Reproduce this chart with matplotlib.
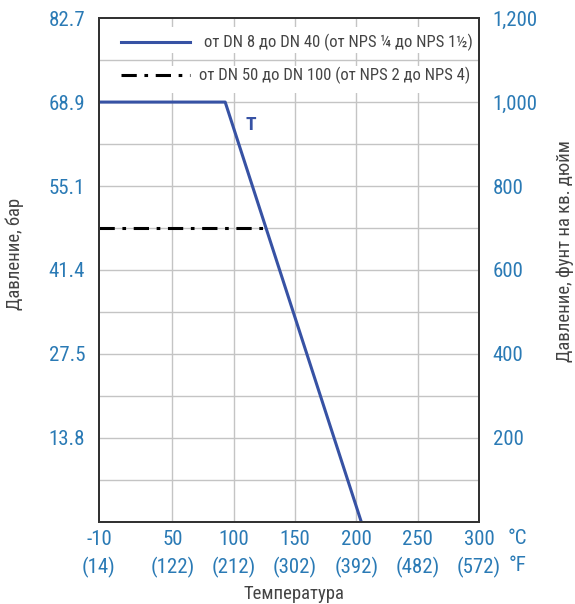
import matplotlib
matplotlib.use('Agg')
import matplotlib.pyplot as plt
from matplotlib import font_manager

# data (pressure in psi, temperature in C)
temp_small = [-10, 93, 204]
psi_small = [1000, 1000, 0]
temp_large = [-10, 126]
psi_large = [700, 700]

x_ticks = [-10, 50, 100, 150, 200, 250, 300]
x_labels_f = ['(14)', '(122)', '(212)', '(302)', '(392)', '(482)', '(572)']
psi_ticks = [200, 400, 600, 800, 1000, 1200]
bar_labels = ['13.8', '27.5', '41.4', '55.1', '68.9', '82.7']
psi_labels = ['200', '400', '600', '800', '1,000', '1,200']
legend_labels = ['от DN 8 до DN 40 (от NPS ¼ до NPS 1½)',
                 'от DN 50 до DN 100 (от NPS 2 до NPS 4)']

names = {f.name for f in font_manager.fontManager.ttflist}
chosen = 'DejaVu Sans'
for fam in ['Roboto Condensed', 'PT Sans Narrow', 'Open Sans Condensed',
            'Archivo Narrow', 'Liberation Sans Narrow']:
    if fam in names:
        chosen = fam
        break
plt.rcParams['font.family'] = [chosen, 'DejaVu Sans']

TICK = '#2a7ab5'
LINE = '#3752a4'
GREY = '#444444'
DASH = (5, 2.5, 1.2, 2.5)

fig = plt.figure(figsize=(5.75, 6.04), dpi=100)
ax = fig.add_axes([0.172, 0.136, 0.661, 0.834])

ax.set_xlim(-10, 300)
ax.set_ylim(0, 1200)

# grid: every 50 C and every 100 psi
for gx in [50, 100, 150, 200, 250]:
    ax.axvline(gx, color='#c4c4c4', lw=1.0, zorder=1)
for gy in range(100, 1200, 100):
    ax.axhline(gy, color='#c4c4c4', lw=1.0, zorder=1)

ax.set_xticks(x_ticks)
ax.set_xticklabels([f'{t}\n{f}' for t, f in zip(x_ticks, x_labels_f)],
                   linespacing=1.45)
ax.set_yticks(psi_ticks)
ax.set_yticklabels(bar_labels)
ax.tick_params(axis='both', length=0, labelsize=15, labelcolor=TICK)
ax.tick_params(axis='x', pad=6)
ax.tick_params(axis='y', pad=10)

ax2 = ax.twinx()
ax2.set_ylim(0, 1200)
ax2.set_yticks(psi_ticks)
ax2.set_yticklabels(psi_labels)
ax2.tick_params(axis='y', length=0, labelsize=15, labelcolor=TICK, pad=10)

for a in (ax, ax2):
    for s in a.spines.values():
        s.set_color('#333333')
        s.set_linewidth(1.4)

ax.plot(temp_small, psi_small, color=LINE, lw=2.2, zorder=3)
ax.plot(temp_large, psi_large, color='black', lw=2.2, dashes=DASH, zorder=3)
ax.text(114, 945, 'T', color=LINE, fontsize=14, fontweight='bold',
        ha='center', va='center')

# legend rows drawn over the grid
tr = ax.transAxes
for (y0, y1) in [(0.931, 0.982), (0.851, 0.905)]:
    ax.add_patch(plt.Rectangle((0.003, y0), 0.994, y1 - y0, transform=tr,
                               facecolor='white', edgecolor='none', zorder=2))
ax.plot([0.058, 0.24], [0.952, 0.952], transform=tr, color=LINE, lw=2.2, zorder=3)
ax.text(0.985, 0.952, legend_labels[0], transform=tr, ha='right', va='center',
        fontsize=12, color=GREY, zorder=4)
ax.plot([0.058, 0.24], [0.887, 0.887], transform=tr, color='black', lw=2.2,
        dashes=DASH, zorder=3)
ax.text(0.263, 0.887, legend_labels[1], transform=tr, ha='left', va='center',
        fontsize=12, color=GREY, zorder=4)

fig.text(0.9, 0.108, '°C', color=TICK, fontsize=15, ha='center', va='center')
fig.text(0.9, 0.064, '°F', color=TICK, fontsize=15, ha='center', va='center')

fig.text(0.512, 0.002, 'Температура', color=GREY, fontsize=13.5, ha='center', va='bottom')
fig.text(0.025, 0.58, 'Давление, бар', color=GREY, fontsize=13.5, rotation=90,
         ha='center', va='center')
fig.text(0.982, 0.585, 'Давление, фунт на кв. дюйм', color=GREY, fontsize=13.5,
         rotation=90, ha='center', va='center')

fig.savefig('out.png', dpi=100)
